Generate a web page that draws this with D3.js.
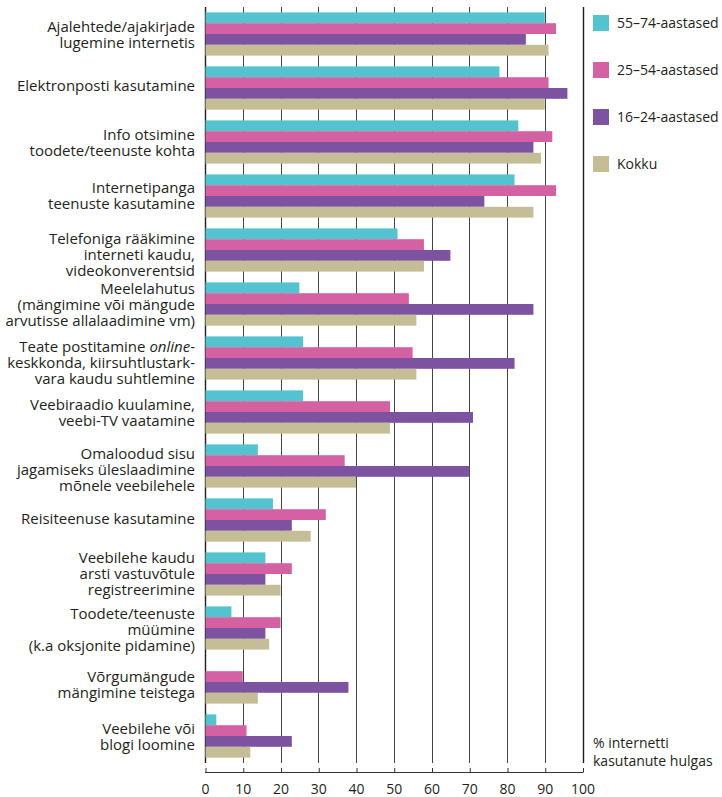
<!DOCTYPE html>
<html>
<head>
<meta charset="utf-8">
<script src="https://cdn.jsdelivr.net/npm/d3@7"></script>
<style>
  html, body { margin: 0; padding: 0; background: #fff; }
  svg { display: block; font-family: "Open Sans", sans-serif; }
</style>
</head>
<body>
<svg id="chart" width="722" height="797"></svg>
<script>
// Internet activities by age group, % of internet users
const categories = [
  ["Ajalehtede/ajakirjade", "lugemine internetis"],
  ["Elektronposti kasutamine"],
  ["Info otsimine", "toodete/teenuste kohta"],
  ["Internetipanga", "teenuste kasutamine"],
  ["Telefoniga rääkimine", "interneti kaudu,", "videokonverentsid"],
  ["Meelelahutus", "(mängimine või mängude", "arvutisse allalaadimine vm)"],
  ["Teate postitamine |online|-", "keskkonda, kiirsuhtlustark-", "vara kaudu suhtlemine"],
  ["Veebiraadio kuulamine,", "veebi-TV vaatamine"],
  ["Omaloodud sisu", "jagamiseks üleslaadimine", "mõnele veebilehele"],
  ["Reisiteenuse kasutamine"],
  ["Veebilehe kaudu", "arsti vastuvõtule", "registreerimine"],
  ["Toodete/teenuste", "müümine", "(k.a oksjonite pidamine)"],
  ["Võrgumängude", "mängimine teistega"],
  ["Veebilehe või", "blogi loomine"]
];

const seriesNames = ["55–74-aastased", "25–54-aastased", "16–24-aastased", "Kokku"];

const age55to74 = [90, 78, 83, 82, 51, 25, 26, 26, 14, 18, 16, 7, null, 3];
const age25to54 = [93, 91, 92, 93, 58, 54, 55, 49, 37, 32, 23, 20, 10, 11];
const age16to24 = [85, 96, 87, 74, 65, 87, 82, 71, 70, 23, 16, 16, 38, 23];
const total     = [91, 90, 89, 87, 58, 56, 56, 49, 40, 28, 20, 17, 14, 12];

const xTicks = [0, 10, 20, 30, 40, 50, 60, 70, 80, 90, 100];
const axisTitle = ["% internetti", "kasutanute hulgas"];

const colors = ["#53c4cf", "#d462a3", "#7d52a0", "#c4bd96"];
const seriesValues = [age55to74, age25to54, age16to24, total];

// vertical nudge (px) of each category label block
const labelShift = [1, -2, 1, 0, 5, 1, 5, 1, 4, -1, 0, 2, 3, 1];

const svg = d3.select("#chart");

const x = d3.scaleLinear().domain([0, 100]).range([205, 582.5]);
const y = d3.scaleBand()
  .domain(d3.range(categories.length))
  .range([7, 763])
  .paddingInner(0.2)
  .paddingOuter(0.1);
const ySub = d3.scaleBand()
  .domain(d3.range(seriesNames.length))
  .range([0, y.bandwidth()]);

// vertical grid lines
svg.append("g")
  .selectAll("line")
  .data(xTicks)
  .join("line")
  .attr("x1", d => Math.round(x(d)) + 0.5)
  .attr("x2", d => Math.round(x(d)) + 0.5)
  .attr("y1", 7)
  .attr("y2", 763)
  .attr("stroke", d => (d === 0 || d === 100) ? "#1e1e1e" : "#444")
  .attr("stroke-width", d => (d === 0 || d === 100) ? 1.4 : 1);

// bars
const groups = svg.append("g")
  .selectAll("g")
  .data(categories)
  .join("g")
  .attr("transform", (d, i) => `translate(0,${y(i)})`);

groups.selectAll("rect")
  .data((d, i) => seriesValues.map((vals, s) => ({ s, v: vals[i] })).filter(e => e.v != null))
  .join("rect")
  .attr("x", x(0) + 0.5)
  .attr("y", e => ySub(e.s))
  .attr("width", e => x(e.v) - x(0) - 0.5)
  .attr("height", ySub.bandwidth())
  .attr("fill", e => colors[e.s]);

// category labels
const lineH = 16.3;
groups.each(function(lines, i) {
  const g = d3.select(this);
  const cy = y.bandwidth() / 2 + labelShift[i];
  const t = g.append("text")
    .attr("text-anchor", "end")
    .attr("font-size", 15)
    .attr("fill", "#231f20");
  lines.forEach((line, k) => {
    const ty = cy + (k - (lines.length - 1) / 2) * lineH + 5;
    const parts = line.split("|");
    parts.forEach((p, j) => {
      const ts = t.append("tspan").text(p);
      if (j === 0) ts.attr("x", 195).attr("y", ty);
      if (j % 2 === 1) ts.attr("font-style", "italic");
    });
  });
});

// bottom axis
const axis = d3.axisBottom(x)
  .tickValues(xTicks)
  .tickSize(0)
  .tickPadding(0);
const ax = svg.append("g").attr("transform", "translate(0,772)").call(axis);
ax.select(".domain").remove();
ax.selectAll("text")
  .attr("font-family", "Open Sans, sans-serif")
  .attr("font-size", 14)
  .attr("fill", "#231f20")
  .attr("y", 22)
  .attr("dy", null);
ax.append("line")
  .attr("x1", x(0)).attr("x2", x(100) + 0.5)
  .attr("y1", 0.5).attr("y2", 0.5)
  .attr("stroke", "#333").attr("stroke-width", 1);
ax.selectAll(".tick").append("line")
  .attr("x1", 0.5).attr("x2", 0.5)
  .attr("y1", 0.5).attr("y2", -4)
  .attr("stroke", "#333");

// legend
const legend = svg.append("g").attr("transform", "translate(593,15)");
const li = legend.selectAll("g")
  .data(seriesNames)
  .join("g")
  .attr("transform", (d, i) => `translate(0,${i * 47})`);
li.append("rect")
  .attr("width", 16).attr("height", 16)
  .attr("fill", (d, i) => colors[i]);
li.append("text")
  .attr("x", 24).attr("y", 13)
  .attr("font-size", 14)
  .attr("fill", "#231f20")
  .text(d => d);

// axis title
svg.append("text")
  .attr("x", 593).attr("y", 748)
  .attr("font-size", 14)
  .attr("fill", "#231f20")
  .selectAll("tspan")
  .data(axisTitle)
  .join("tspan")
  .attr("x", 593)
  .attr("dy", (d, i) => i === 0 ? 0 : 18)
  .text(d => d);
</script>
</body>
</html>
